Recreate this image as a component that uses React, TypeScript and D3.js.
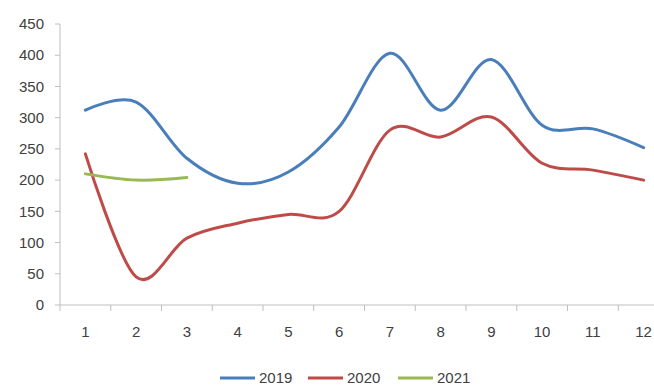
import React from "react";
import * as d3 from "d3";

const months = ["1", "2", "3", "4", "5", "6", "7", "8", "9", "10", "11", "12"];
const yTicks = [0, 50, 100, 150, 200, 250, 300, 350, 400, 450];
const series2019 = [312, 325, 235, 195, 213, 285, 403, 312, 393, 288, 282, 252];
const series2020 = [242, 45, 107, 131, 145, 150, 280, 269, 301, 227, 216, 200];
const series2021 = [210, 200, 204];
const seriesNames = ["2019", "2020", "2021"];
const seriesColors = ["#4a7ebb", "#be4b48", "#98b954"];

const W = 654;
const H = 385;
const FONT = "'Liberation Sans', Arial, sans-serif";

export default function App() {
  const x = d3.scaleBand<string>().domain(months).range([60, 669]);
  const y = d3.scaleLinear().domain([0, 450]).range([305, 24]);
  const line = d3
    .line<number>()
    .x((_, i) => (x(months[i]) as number) + x.bandwidth() / 2)
    .y((d) => y(d))
    .curve(d3.curveCardinal.tension(0));

  const allSeries = [series2019, series2020, series2021];
  const legendX = [220, 308, 398];

  return (
    <svg
      width={W}
      height={H}
      style={{ position: "fixed", left: 0, top: 0, background: "#fff" }}
      fontFamily={FONT}
    >
      {/* y axis */}
      <line x1={60} x2={60} y1={y(450)} y2={y(0)} stroke="#bfbfbf" strokeWidth={1} />
      {yTicks.map((t) => (
        <g key={t}>
          <line x1={55} x2={60} y1={y(t)} y2={y(t)} stroke="#bfbfbf" />
          <text x={44} y={y(t)} dy="0.35em" textAnchor="end" fontSize={15} fill="#404040">
            {t}
          </text>
        </g>
      ))}
      {/* x axis */}
      <line x1={60} x2={W} y1={y(0)} y2={y(0)} stroke="#bfbfbf" strokeWidth={1} />
      {months.map((m) => {
        const x0 = x(m) as number;
        return (
          <g key={m}>
            <line x1={x0} x2={x0} y1={y(0)} y2={y(0) + 6} stroke="#bfbfbf" />
            <text
              x={x0 + x.bandwidth() / 2}
              y={332}
              dy="0.35em"
              textAnchor="middle"
              fontSize={15}
              fill="#404040"
            >
              {m}
            </text>
          </g>
        );
      })}
      {/* series */}
      {allSeries.map((s, i) => (
        <path
          key={seriesNames[i]}
          d={line(s) || ""}
          fill="none"
          stroke={seriesColors[i]}
          strokeWidth={3}
          strokeLinecap="round"
          strokeLinejoin="round"
        />
      ))}
      {/* legend */}
      {seriesNames.map((n, i) => (
        <g key={n}>
          <line
            x1={legendX[i]}
            x2={legendX[i] + 35}
            y1={378}
            y2={378}
            stroke={seriesColors[i]}
            strokeWidth={3}
          />
          <text x={legendX[i] + 39} y={378} dy="0.35em" fontSize={15} fill="#404040">
            {n}
          </text>
        </g>
      ))}
    </svg>
  );
}
